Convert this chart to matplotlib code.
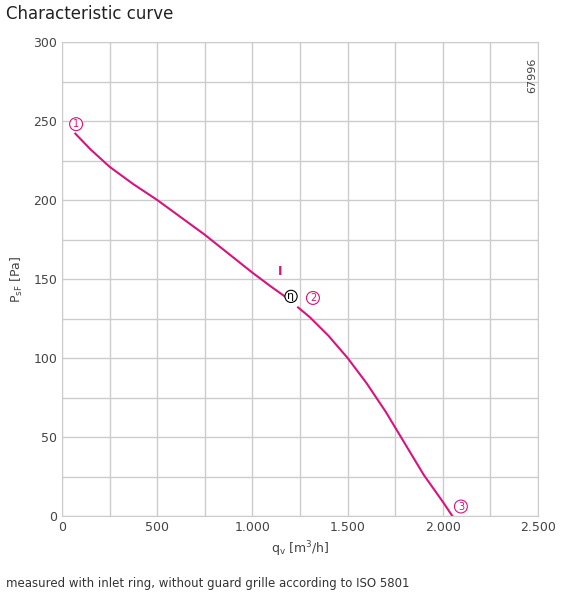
import matplotlib
matplotlib.use("Agg")
import matplotlib.pyplot as plt
import numpy as np

q = [70, 150, 250, 375, 500, 625, 750, 875, 1000, 1100, 1170, 1240, 1300, 1400, 1500, 1600, 1700, 1800, 1900, 2000, 2050]
p = [242, 232, 221, 210, 200, 189, 178, 166, 154, 145, 139, 132, 126, 114, 100, 84, 66, 46, 26, 9, 0]
pts = [("1", 74, 248), ("2", 1318, 138), ("3", 2095, 6)]
eta = (1203, 139)
mag = "#d6147f"

fig = plt.figure(figsize=(5.65, 6.07), dpi=100)
ax = fig.add_axes([62/565, 1-516/607, 476/565, 474/607])
ax.set_xlim(0, 2500); ax.set_ylim(0, 300)
ax.set_yticks(np.arange(0, 301, 25))
ax.grid(True, color="#cccccc", lw=1)
ax.set_axisbelow(True)
for s in ax.spines.values():
    s.set_color("#cccccc")
ax.tick_params(length=0, labelsize=9, colors="#444444")
ax.set_xticks(np.arange(0, 2501, 500))
ax.set_xticks(np.arange(250, 2501, 500), minor=True)
ax.grid(True, which="minor", color="#cccccc", lw=1)
ax.tick_params(which="minor", length=0)
ax.set_xticklabels(["0", "500", "1.000", "1.500", "2.000", "2.500"])
ylab = [str(v) if v % 50 == 0 else "" for v in range(0, 301, 25)]
ax.set_yticklabels(ylab)

qa = np.array(q); pa = np.array(p)
m1 = qa <= 1170
ax.plot(qa[m1], pa[m1], color=mag, lw=1.5)
ax.plot(qa[~m1], pa[~m1], color=mag, lw=1.5)
for lab, x, y in pts:
    ax.text(x, y, lab, color=mag, fontsize=7, ha="center", va="center",
            bbox=dict(boxstyle="circle,pad=0.15", fc="white", ec=mag, lw=0.8))
ax.text(eta[0], eta[1], "η", fontsize=8, ha="center", va="center",
        bbox=dict(boxstyle="circle,pad=0.1", fc="white", ec="black", lw=0.8))
ax.text(1145, 155, "I", color=mag, fontsize=9, fontweight="bold", ha="center", va="center")
ax.text(2470, 290, "67996", rotation=90, fontsize=8, color="#444444", ha="center", va="top")
ax.set_xlabel("q$_\\mathregular{v}$ [m$^3$/h]", fontsize=9, color="#444444", labelpad=4)
ax.set_ylabel("P$_\\mathregular{sF}$ [Pa]", fontsize=9, color="#444444", labelpad=6)
fig.text(6/565, 1-14/607, "Characteristic curve", fontsize=12, color="#222222", va="center")
fig.text(6/565, 1-583/607, "measured with inlet ring, without guard grille according to ISO 5801",
         fontsize=8.5, color="#333333", va="center")
fig.savefig("out.png", dpi=100)
